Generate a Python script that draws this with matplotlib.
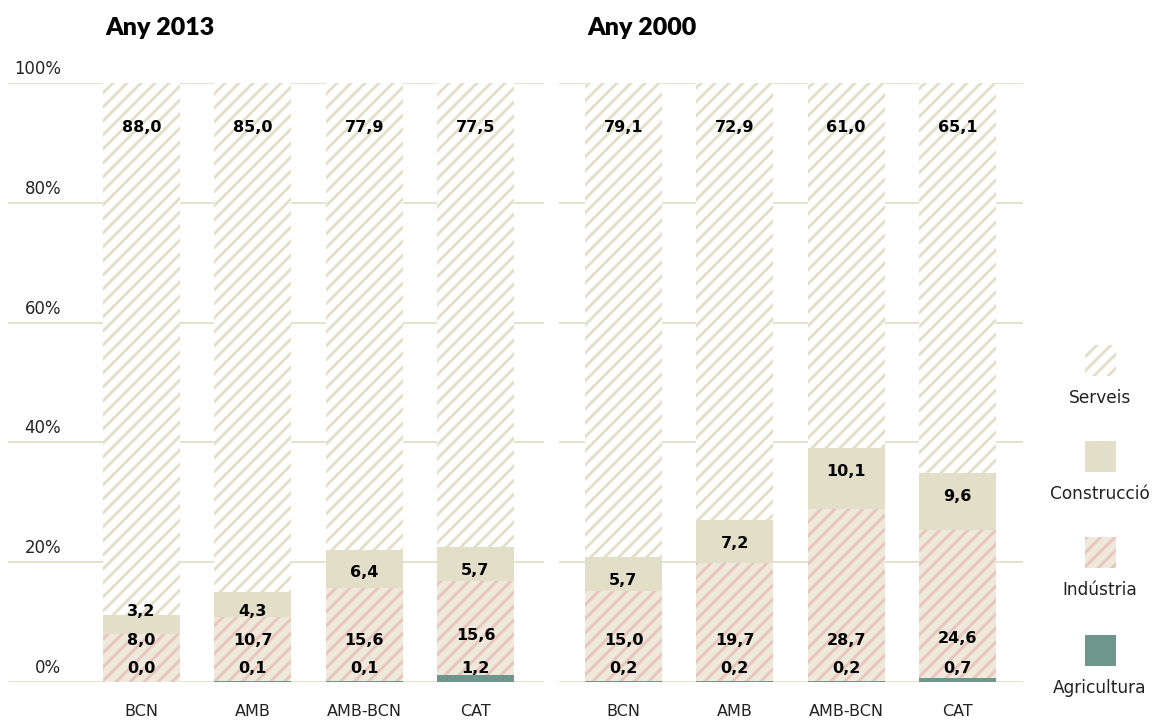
import matplotlib
matplotlib.use("Agg")
import matplotlib.pyplot as plt
from matplotlib.patches import Rectangle

# ---- data ----
categories = ["BCN", "AMB", "AMB-BCN", "CAT"]
years = ["Any 2013", "Any 2000"]
agricultura = {"Any 2013": [0.0, 0.1, 0.1, 1.2], "Any 2000": [0.2, 0.2, 0.2, 0.7]}
industria = {"Any 2013": [8.0, 10.7, 15.6, 15.6], "Any 2000": [15.0, 19.7, 28.7, 24.6]}
construccio = {"Any 2013": [3.2, 4.3, 6.4, 5.7], "Any 2000": [5.7, 7.2, 10.1, 9.6]}
serveis = {"Any 2013": [88.0, 85.0, 77.9, 77.5], "Any 2000": [79.1, 72.9, 61.0, 65.1]}
yticks = [0, 20, 40, 60, 80, 100]
ytick_labels = ["0%", "20%", "40%", "60%", "80%", "100%"]
legend_labels = ["Serveis", "Construcció", "Indústria", "Agricultura"]

DPI = 84
W, H = 1159, 722
plt.rcParams["font.family"] = ["DejaVu Sans"]
plt.rcParams["hatch.linewidth"] = 2.5

C_SERV_H = "#e4dfc9"
C_CONS = "#e3dec8"
C_IND_BG = "#efe9dc"
C_IND_H = "#e9c6bd"
C_AGR = "#6f968c"
C_GRID = "#e6e1cd"
C_TXT = "#222222"

fig = plt.figure(figsize=(W / DPI, H / DPI), dpi=DPI)

def px(pt_px):
    return pt_px * 72 / DPI

y0, y100 = 682, 83
ax_bottom = (H - y0) / H
ax_height = (y0 - y100) / H
unit = 111.33
bw = 77 / unit

panels = [
    (8, 544, 141.5),
    (559, 1023, 623.5),
]

for pi, (year, (xl, xr, c0)) in enumerate(zip(years, panels)):
    ax = fig.add_axes([xl / W, ax_bottom, (xr - xl) / W, ax_height])
    ax.set_xlim((xl - c0) / unit, (xr - c0) / unit)
    ax.set_ylim(0, 100)
    for s in ax.spines.values():
        s.set_visible(False)
    ax.set_yticks([])
    ax.set_xticks(range(len(categories)))
    ax.set_xticklabels(categories, fontsize=px(16), color=C_TXT)
    ax.tick_params(axis="x", length=0, pad=px(22))
    for t in yticks:
        ax.axhline(t, color=C_GRID, lw=px(2), zorder=0)
    x = list(range(len(categories)))
    a = agricultura[year]
    ind = industria[year]
    con = construccio[year]
    ser = serveis[year]
    b1 = a
    b2 = [p + q for p, q in zip(a, ind)]
    b3 = [p + q for p, q in zip(b2, con)]
    # top segment fills the stack up to 100 %
    ser_h = [100 - b for b in b3]
    ax.bar(x, a, bw, color=C_AGR, lw=0, zorder=2)
    ax.bar(x, ind, bw, bottom=b1, facecolor=C_IND_BG, edgecolor=C_IND_H,
           hatch="//", lw=0, zorder=2)
    ax.bar(x, con, bw, bottom=b2, color=C_CONS, lw=0, zorder=2)
    ax.bar(x, ser_h, bw, bottom=b3, facecolor="white", edgecolor=C_SERV_H,
           hatch="//", lw=0, zorder=2)
    fs = px(16)
    for i in range(len(categories)):
        ya = 2.2
        yi = max(7.0, a[i] + 6.6)
        yc = max(b3[i] - 3.9, yi + 4.8)
        ys = 92.5
        for yy, v in [(ya, a[i]), (yi, ind[i]), (yc, con[i]), (ys, ser[i])]:
            ax.text(i, yy, f"{v:.1f}".replace(".", ","), ha="center", va="center",
                    fontsize=fs, fontweight="bold", color="black", zorder=5)
    # title
    tx = (c0 - 38.5 + 2) / W
    fig.text(tx, (H - 28) / H, year, fontsize=px(25), fontweight="heavy",
             ha="left", va="center", color="black", family="Lato")
    if pi == 0:
        for t, lab in zip(yticks, ytick_labels):
            yp = y0 - t * (y0 - y100) / 100 - 14
            fig.text(61 / W, (H - yp) / H, lab, ha="right", va="center",
                     fontsize=px(16.5), color=C_TXT)

# legend
leg_styles = [
    dict(facecolor="white", edgecolor=C_SERV_H, hatch="//", lw=0),
    dict(facecolor=C_CONS, lw=0),
    dict(facecolor=C_IND_BG, edgecolor=C_IND_H, hatch="//", lw=0),
    dict(facecolor=C_AGR, lw=0),
]
sq_tops = [345, 441, 537, 635]
for lab, st, top in zip(legend_labels, leg_styles, sq_tops):
    r = Rectangle((1085 / W, (H - top - 31) / H), 31 / W, 31 / H,
                  transform=fig.transFigure, **st)
    fig.add_artist(r)
    fig.text(1100 / W, (H - (top + 53)) / H, lab, ha="center", va="center",
             fontsize=px(17), color=C_TXT)

fig.savefig("out.png", dpi=DPI)
